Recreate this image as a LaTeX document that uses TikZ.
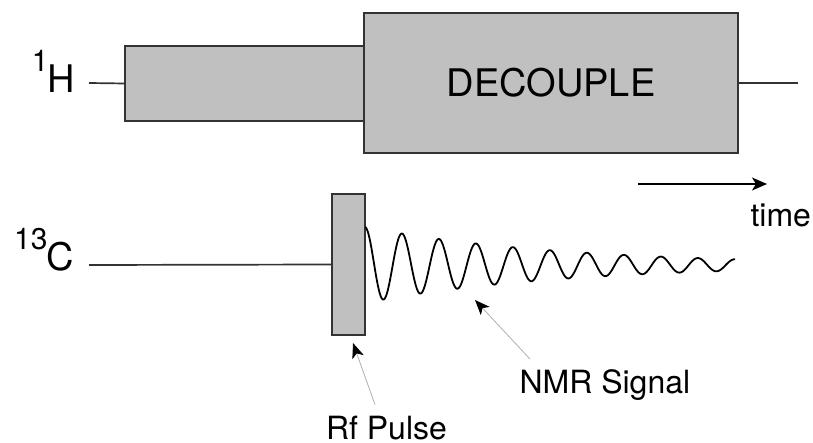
\documentclass[tikz,border=0pt]{standalone}
\usepackage{fontspec}
\setmainfont{TeX Gyre Heros}
\definecolor{PulseGray}{RGB}{192, 192, 192}
\definecolor{EdgeGray}{RGB}{51, 51, 51}
\definecolor{LeadGray}{RGB}{175, 175, 175}
\usetikzlibrary{arrows.meta}
\newcommand{\isotope}[2]{\raisebox{21pt}{\fontsize{30}{30}\selectfont #1}\kern-1pt#2}

\begin{document}
\begin{tikzpicture}[
    x=1pt, y=-1pt,
    every node/.style={inner sep=0pt, outer sep=0pt},
    pulsebox/.style={draw=EdgeGray, fill=PulseGray, line width=1.7pt},
    channel/.style={draw=EdgeGray, line width=1.7pt},
    signal/.style={draw=black, line width=1.8pt, line join=round},
    leader/.style={draw=LeadGray, line width=0.8pt, -{Stealth[black, length=15pt, width=12pt, inset=4pt]}},
    timearrow/.style={draw=black, line width=1.7pt, -{Stealth[length=15pt, width=13pt, inset=4pt]}},
    textlabel/.style={font=\fontsize{32}{36}\selectfont},
    nucleus/.style={font=\fontsize{38}{40}\selectfont, anchor=base east}
]
\useasboundingbox (0,0) rectangle (813,443);
% proton channel
\node[nucleus] (hlab) at (75,93) {\isotope{1}{H}};
\coordinate (hin) at (89,83);
\coordinate (hout) at (798,83);
\node[pulsebox, minimum width=239pt, minimum height=75pt] (pre) at (244.5,83.5) {};
\draw[channel] (hin) -- (pre.west);
\node[pulsebox, minimum width=374pt, minimum height=140pt, font=\fontsize{38}{40}\selectfont] (dec) at (551,83) {DECOUPLE};
\draw[channel] (dec.east) -- (hout);
% time axis
\coordinate (t0) at (638,184);
\coordinate (t1) at (767,184);
\draw[timearrow] (t0) -- (t1);
\node[textlabel, anchor=base east] (time) at (811,227) {time};
% carbon channel
\node[nucleus] (clab) at (74,271) {\isotope{13}{C}};
\coordinate (cin) at (89,265);
\node[pulsebox, minimum width=33pt, minimum height=141pt] (pulse) at (348.5,264.5) {};
\draw[channel] (cin) -- (pulse.west);
\draw[signal] plot[domain=0:370, samples=371] ({365+\x}, {265-38*exp(-\x/196)*cos(\x*9.7297)});
\coordinate (fid) at (475,300);
% labels
\node[textlabel, anchor=base west] (rf) at (326,439) {Rf Pulse};
\node[textlabel, anchor=base west] (nmr) at (519.5,393) {NMR Signal};
\draw[leader] ([xshift=-11.5pt, yshift=11pt]rf.north) -- ([xshift=4.5pt, yshift=-8pt]pulse.south);
\draw[leader] ([xshift=10.5pt, yshift=10pt]nmr.north west) -- (fid);
\end{tikzpicture}
\end{document}
